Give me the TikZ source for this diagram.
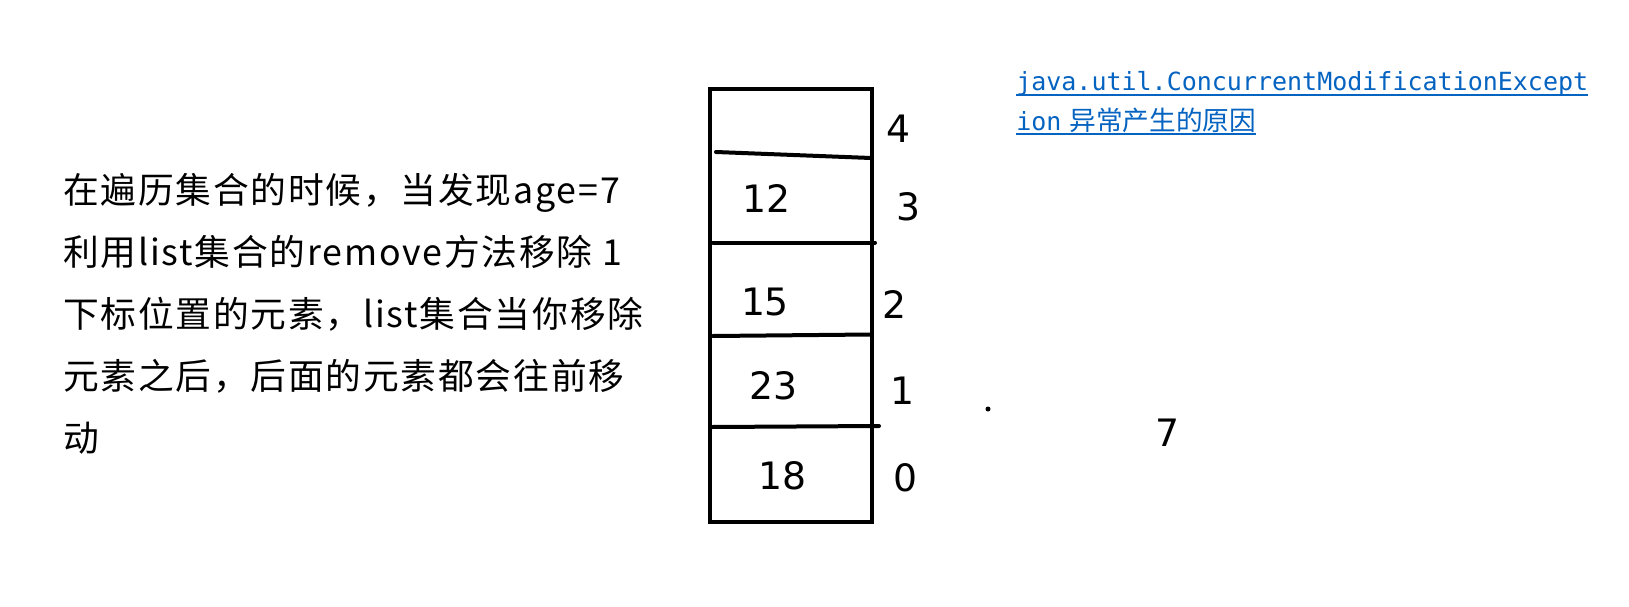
\documentclass[tikz,border=0pt]{standalone}
\usepackage{fontspec}
\newfontfamily\cjkfont{Noto Sans CJK SC}
\newfontfamily\descfont[LetterSpace=5]{Noto Sans CJK SC}
\newfontfamily\digitfont{DejaVu Sans}
\newfontfamily\codefont{DejaVu Sans Mono}
\definecolor{linkblue}{RGB}{5,99,193}
\begin{document}
\begin{tikzpicture}[x=0.75pt,y=-0.75pt,
  boxline/.style={line width=3pt},
  divider/.style={line width=3pt, line cap=round},
  cellnum/.style={inner sep=0pt, font=\digitfont\fontsize{28.3pt}{34pt}\selectfont},
  desctext/.style={inner sep=0pt, align=left, font=\descfont\fontsize{26.8pt}{46.5pt}\selectfont},
  linktext/.style={inner sep=0pt, text=linkblue, font=\codefont\fontsize{18.75pt}{30pt}\selectfont},
  underl/.style={draw=linkblue, line width=1.5pt}
]
\useasboundingbox[fill=white] (0,0) rectangle (1629,607);

% description text
\node[desctext, anchor=north west] (desc) at (63,173)
  {在遍历集合的时候，当发现age=7\\利用list集合的remove方法移除 1\\下标位置的元素，list集合当你移除\\元素之后，后面的元素都会往前移\\动};

% array box
\draw[boxline] (710,89) rectangle (872,522);
\draw[divider] (716,152) -- (871,158);
\draw[divider] (713,242.5) -- (875,242.5);
\draw[divider] (713,336) -- (871,334.5);
\draw[divider] (712,427) -- (879,426);

% cell values
\node[cellnum] (v3) at (767,198) {12};
\node[cellnum] (v2) at (765,302) {15};
\node[cellnum] (v1) at (774,386) {23};
\node[cellnum] (v0) at (783,476) {18};

% indices
\node[cellnum] (i4) at (898,129) {4};
\node[cellnum] (i3) at (908,207) {3};
\node[cellnum] (i2) at (894,304) {2};
\node[cellnum] (i1) at (902,391) {1};
\node[cellnum] (i0) at (905,478) {0};

% dot and 7
\node[circle, fill=black, inner sep=0pt, minimum size=3.75pt] (dot) at (988,409) {};
\node[cellnum] (seven) at (1167,433) {7};

% link
\node[linktext, anchor=base west] (l1) at (1016,90) {java.util.ConcurrentModificationExcept};
\node[linktext, anchor=base west] (l2) at (1016,130) {ion\hspace{6pt}{\cjkfont\fontsize{20pt}{30pt}\selectfont 异常产生的原因}};
\draw[underl] ([yshift=-3.75pt]l1.base west) -- ([yshift=-3.75pt]l1.base east);
\draw[underl] ([yshift=-3pt]l2.base west) -- ([yshift=-3pt]l2.base east);
\end{tikzpicture}
\end{document}
